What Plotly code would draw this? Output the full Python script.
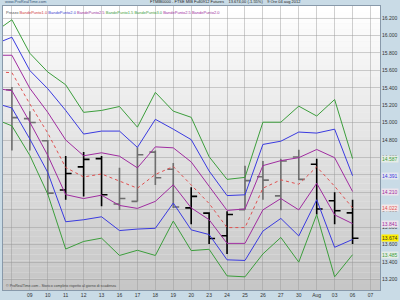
import plotly.graph_objects as go

# ---------------- data ----------------
band_idx = list(range(-1, 20))
green_up = [16033, 16180, 15796, 15581, 15434, 15118, 15140, 15185, 14948, 15347, 15132,
            15061, 14609, 14349, 14372, 15005, 15005, 15189, 15076, 15265, 14587]
blue_up = [15897, 15980, 15598, 15389, 15140, 14869, 14903, 14903, 14716, 15038, 14925,
           14805, 14445, 14163, 14172, 14750, 14787, 14892, 14880, 14925, 14391]
purple_up = [15773, 15773, 15394, 15118, 14801, 14620, 14654, 14615, 14481, 14722, 14711,
             14549, 14270, 13993, 14010, 14507, 14564, 14598, 14692, 14598, 14210]
middle = [15584, 15573, 15214, 14880, 14485, 14377, 14411, 14330, 14248, 14406, 14496,
          14285, 14072, 13796, 13796, 14248, 14344, 14293, 14493, 14270, 14022]
purple_lo = [15397, 15366, 15005, 14624, 14174, 14129, 14168, 14050, 14016, 14097, 14287,
             14022, 13886, 13615, 13615, 13999, 14129, 13999, 14304, 13942, 13841]
blue_lo = [15227, 15168, 14812, 14428, 13863, 13886, 13920, 13762, 13779, 13788, 14078,
           13770, 13716, 13426, 13419, 13756, 13901, 13700, 14115, 13570, 13660]
green_lo = [15046, 14963, 14624, 14180, 13550, 13637, 13675, 13476, 13536, 13476, 13871,
            13532, 13547, 13242, 13231, 13494, 13683, 13400, 13946, 13231, 13485]

bar_idx = list(range(0, 20))
bar_open = [15378, 15046, 14793, 14228, 14493, 14587, 14067, 14097, 14662, 14466,
            14022, 13962, 13702, 14002, 14380, 14160, 14606, 14522, 14104, 13965]
bar_high = [15408, 15132, 14800, 14617, 14662, 14617, 14481, 14719, 14680, 14538,
            14259, 13973, 13984, 14504, 14560, 14587, 14688, 14587, 14202, 14115]
bar_low = [14680, 14680, 14172, 14115, 14154, 14041, 13999, 14095, 14285, 14022,
           13833, 13607, 13494, 14000, 14115, 13995, 14341, 13946, 13833, 13607]
bar_close = [15058, 15001, 14191, 14417, 14579, 14172, 14129, 14632, 14368, 14033,
             14154, 13671, 13946, 14335, 14341, 14560, 14349, 14010, 13990, 13674]
bar_dark = [False, False, False, True, True, True, False, False, False, False,
            True, True, True, False, False, False, False, True, True, True]

x_ticks = list(range(0, 21))
x_labels = ["", "09", "10", "11", "12", "13", "16", "17", "18", "19", "20",
            "23", "24", "25", "26", "27", "30", "Aug", "03", "06", "07"]

legend_items = ["Prezzo", "BandePunto1.0", "BandePunto2.0", "BandePunto2.5", "BandePunto1.5",
                "BandePunto3.0", "BandePunto2.5", "BandePunto2.0"]
legend_colors = ["#555555", "#d04040", "#4040d0", "#a030a0", "#40a040",
                 "#40a040", "#a030a0", "#a030a0"]

title_text = "FTMIB0000 - FTSE MIB Full0912 Futures    13.674,00 (-1.55%)    9 Ore 04 aug 2012"

# ---------------- figure ----------------
fig = go.Figure()

band_styles = [
    (green_up, "#3c9e3c", "solid"),
    (blue_up, "#3a3ae0", "solid"),
    (purple_up, "#a02ca0", "solid"),
    (middle, "#e05050", "dot"),
    (purple_lo, "#a02ca0", "solid"),
    (blue_lo, "#3a3ae0", "solid"),
    (green_lo, "#3c9e3c", "solid"),
]
for vals, col, dash in band_styles:
    fig.add_trace(go.Scatter(x=band_idx, y=vals, mode="lines",
                             line=dict(color=col, width=1, dash=dash),
                             hoverinfo="skip", showlegend=False))

for dark, col in [(False, "#6e6e6e"), (True, "#000000")]:
    sel = [i for i in range(len(bar_idx)) if bar_dark[i] == dark]
    fig.add_trace(go.Ohlc(
        x=[bar_idx[i] for i in sel],
        open=[bar_open[i] for i in sel],
        high=[bar_high[i] for i in sel],
        low=[bar_low[i] for i in sel],
        close=[bar_close[i] for i in sel],
        increasing=dict(line=dict(color=col, width=1.6)),
        decreasing=dict(line=dict(color=col, width=1.6)),
        tickwidth=0.33, showlegend=False, hoverinfo="skip"))

# background gradient of the plot area
n = 48
for k in range(n):
    t = k / (n - 1)
    g = int(round(255 - (255 - 198) * t))
    fig.add_shape(type="rect", xref="x domain", yref="y domain",
                  x0=0, x1=1, y0=1 - (k + 1) / n, y1=1 - k / n,
                  fillcolor=f"rgb({g},{g},{g})", line=dict(width=0), layer="below")

def fmt(v):
    return f"{int(round(v)):,}".replace(",", ".")

# last-value boxes on the right (the lower blue one is hidden by the price box)
boxes = [
    (green_up[-1], "#3c9e3c", "#e6ece6"),
    (blue_up[-1], "#3a3ae0", "#e4e6ee"),
    (purple_up[-1], "#a02ca0", "#ece4ec"),
    (middle[-1], "#e05050", "#f4e8e8"),
    (purple_lo[-1], "#a02ca0", "#ece4ec"),
    (green_lo[-1], "#3c9e3c", "#e6ece6"),
    (bar_close[-1], "#333333", "#ffee00"),
]
for v, fc, bg in boxes:
    fig.add_annotation(x=1.0, xref="paper", y=v, yref="y", xanchor="left",
                       text=fmt(v), showarrow=False, xshift=1,
                       font=dict(size=5, color=fc, family="Arial"),
                       bgcolor=bg, borderpad=0)

# header texts
fig.add_annotation(x=0, xref="paper", y=1, yref="paper", yanchor="bottom", xanchor="left",
                   text="www.ProRealTime.com", showarrow=False, yshift=-0.5,
                   font=dict(size=4, color="#335577", family="Arial"))
fig.add_annotation(x=0.385, xref="paper", y=1, yref="paper", yanchor="bottom", xanchor="left",
                   text=title_text, showarrow=False, yshift=-0.5,
                   font=dict(size=4, color="#222222", family="Arial"))
legend_html = " ".join(f"<span style='color:{c}'>{t}</span>"
                       for t, c in zip(legend_items, legend_colors))
fig.add_annotation(x=0, xref="paper", y=1, yref="paper", yanchor="top", xanchor="left",
                   text=legend_html, showarrow=False, yshift=-2, xshift=1,
                   font=dict(size=4, family="Arial"))
fig.add_annotation(x=0, xref="paper", y=0, yref="paper", yanchor="bottom", xanchor="left",
                   text="© ProRealTime.com - Storico completo rispetto al giorno di scadenza",
                   showarrow=False, xshift=1,
                   font=dict(size=3.6, color="#444444", family="Arial"))

fig.update_layout(
    width=400, height=300,
    margin=dict(l=2, r=17, t=6, b=7),
    paper_bgcolor="#c9dbe6",
    plot_bgcolor="#f0f0f0",
    separators=",.",
    showlegend=False,
    xaxis=dict(range=[-0.497, 20.53], tickvals=x_ticks, ticktext=x_labels,
               showgrid=True, gridcolor="rgba(150,150,150,0.45)", gridwidth=1,
               zeroline=False, ticks="", ticklen=0,
               tickfont=dict(size=5, color="#333333", family="Arial"),
               rangeslider=dict(visible=False), showline=True,
               linecolor="#8899aa", linewidth=1, mirror=True),
    yaxis=dict(range=[13080, 16338], side="right", dtick=200, tick0=0,
               tickformat=",d", showgrid=True,
               gridcolor="rgba(150,150,150,0.45)", gridwidth=1, zeroline=False,
               ticks="", tickfont=dict(size=5, color="#333333", family="Arial"),
               showline=True, linecolor="#8899aa", linewidth=1, mirror=True),
)

fig.write_html("out.html")
